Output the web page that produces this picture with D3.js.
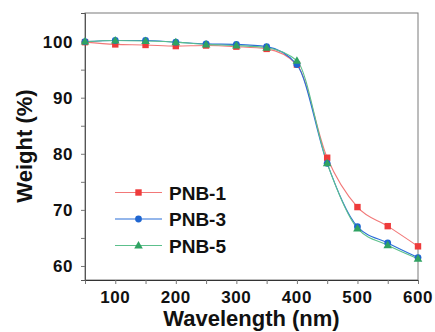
<!DOCTYPE html>
<html>
<head>
<meta charset="utf-8">
<script src="https://cdn.jsdelivr.net/npm/d3@7"></script>
<style>
  html, body { margin: 0; padding: 0; background: #fff; }
  svg { display: block; font-family: "Liberation Sans", Arial, sans-serif; }
</style>
</head>
<body>
<svg id="chart" width="435" height="332"></svg>
<script>
// Temperature points (x axis labelled as wavelength) and weight retained (%)
const xValues = [50, 100, 150, 200, 250, 300, 350, 400, 450, 500, 550, 600];
const pnb1 = [99.9, 99.5, 99.4, 99.2, 99.3, 99.1, 98.7, 95.9, 79.3, 70.5, 67.1, 63.5];
const pnb3 = [100.0, 100.2, 100.2, 99.9, 99.6, 99.5, 99.1, 95.9, 78.3, 67.0, 64.1, 61.5];
const pnb5 = [100.0, 100.2, 100.1, 99.9, 99.5, 99.3, 98.9, 96.6, 78.3, 66.7, 63.7, 61.3];
const seriesNames = ["PNB-1", "PNB-3", "PNB-5"];
const xTicks = [100, 200, 300, 400, 500, 600];
const yTicks = [60, 70, 80, 90, 100];

const series = [
  { name: seriesNames[0], values: pnb1, line: "#f27878", fill: "#ee3b3b", shape: "square" },
  { name: seriesNames[1], values: pnb3, line: "#2a6fd8", fill: "#1f66d1", shape: "circle" },
  { name: seriesNames[2], values: pnb5, line: "#5cc08c", fill: "#2fa262", shape: "triangle" }
];

const svg = d3.select("#chart");
const plotL = 85, plotR = 418, plotT = 13, plotB = 280;

const x = d3.scaleLinear().domain([50, 600]).range([plotL, plotR]);
const y = d3.scaleLinear().domain([57.5, 105.1]).range([plotB, plotT]);

// frame
svg.append("rect")
  .attr("x", plotL).attr("y", plotT)
  .attr("width", plotR - plotL).attr("height", plotB - plotT)
  .attr("fill", "none").attr("stroke", "#7a7a7a").attr("stroke-width", 1);

// bottom axis: majors every 100, minors every 50
const xAxisG = svg.append("g").attr("transform", `translate(0,${plotB})`);
xAxisG.call(d3.axisBottom(x).tickValues(d3.range(50, 601, 50)).tickSize(4).tickFormat(""))
  .call(g => g.select(".domain").attr("stroke", "#333"))
  .call(g => g.selectAll(".tick line").attr("stroke", "#777"));
xAxisG.call(g => {
  g.selectAll(".lbl").data(xTicks).enter().append("text")
    .attr("class", "lbl")
    .attr("x", d => x(d)).attr("y", 23)
    .attr("text-anchor", "middle")
    .attr("font-size", 17).attr("font-weight", "bold")
    .attr("letter-spacing", 0.6)
    .attr("fill", "#111")
    .text(d => d);
});

// left axis: majors every 10, minors every 5
const yAxisG = svg.append("g").attr("transform", `translate(${plotL},0)`);
yAxisG.call(d3.axisLeft(y).tickValues(d3.range(60, 101, 5)).tickSize(4).tickFormat(""))
  .call(g => g.select(".domain").attr("stroke", "#555"))
  .call(g => g.selectAll(".tick line").attr("stroke", "#777"));
yAxisG.call(g => {
  g.selectAll(".lbl").data(yTicks).enter().append("text")
    .attr("class", "lbl")
    .attr("x", -12).attr("y", d => y(d) + 6)
    .attr("text-anchor", "end")
    .attr("font-size", 17).attr("font-weight", "bold")
    .attr("letter-spacing", 0.6)
    .attr("fill", "#111")
    .text(d => d);
});

// axis titles
svg.append("text")
  .attr("x", (plotL + plotR) / 2).attr("y", 326)
  .attr("text-anchor", "middle")
  .attr("font-size", 22).attr("font-weight", "bold").attr("fill", "#111")
  .text("Wavelength (nm)");
svg.append("text")
  .attr("transform", `translate(32,146) rotate(-90)`)
  .attr("text-anchor", "middle")
  .attr("font-size", 22).attr("font-weight", "bold").attr("fill", "#111")
  .text("Weight (%)");

function marker(sel, shape, cx, cy, color) {
  if (shape === "square") {
    sel.append("rect").attr("x", cx - 3.2).attr("y", cy - 3.2)
      .attr("width", 6.4).attr("height", 6.4).attr("fill", color);
  } else if (shape === "circle") {
    sel.append("circle").attr("cx", cx).attr("cy", cy).attr("r", 3.4).attr("fill", color);
  } else {
    sel.append("path").attr("d", `M${cx},${cy - 4.5}L${cx + 4.3},${cy + 3}L${cx - 4.3},${cy + 3}Z`)
      .attr("fill", color);
  }
}

const line = d3.line()
  .x((d, i) => x(xValues[i]))
  .y(d => y(d))
  .curve(d3.curveMonotoneX);

const plot = svg.append("g");
series.forEach(s => {
  plot.append("path")
    .attr("d", line(s.values))
    .attr("fill", "none")
    .attr("stroke", s.line)
    .attr("stroke-width", 1.1);
});
series.forEach(s => {
  const g = plot.append("g");
  s.values.forEach((v, i) => marker(g, s.shape, x(xValues[i]), y(v), s.fill));
});

// legend
const legend = svg.append("g");
series.forEach((s, i) => {
  const ly = 192.5 + i * 26.5;
  legend.append("line")
    .attr("x1", 115).attr("x2", 162).attr("y1", ly).attr("y2", ly)
    .attr("stroke", s.line).attr("stroke-width", 1.1);
  marker(legend, s.shape, 138.5, ly, s.fill);
  legend.append("text")
    .attr("x", 169).attr("y", ly + 7)
    .attr("font-size", 19).attr("fill", "#111")
    .attr("font-weight", "bold")
    .text(s.name);
});
</script>
</body>
</html>
